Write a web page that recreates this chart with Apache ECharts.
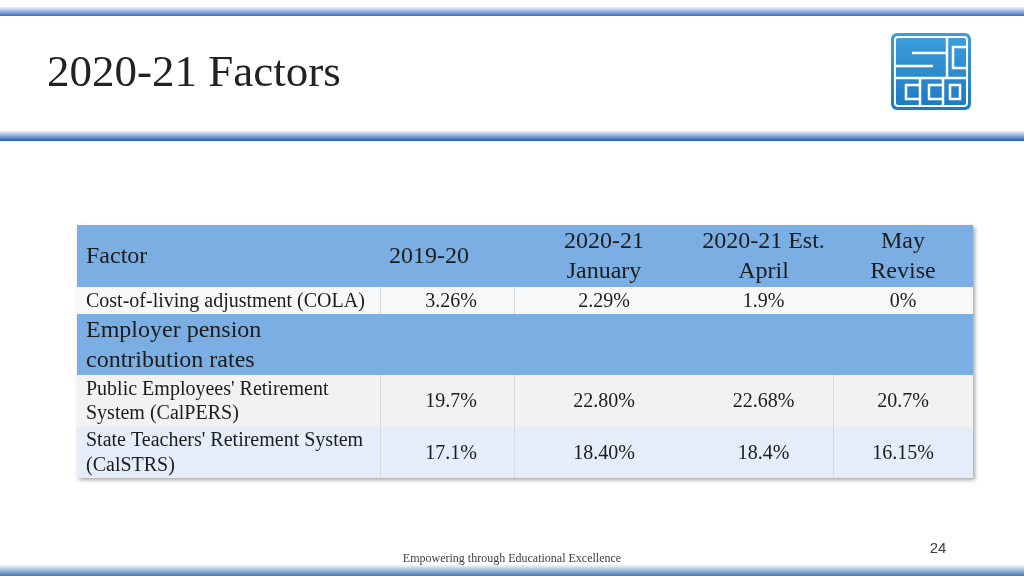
<!DOCTYPE html>
<html>
<head>
<meta charset="utf-8">
<title>2020-21 Factors</title>
<script src="https://cdn.jsdelivr.net/npm/echarts@6/dist/echarts.min.js"></script>
<style>
  html, body { margin: 0; padding: 0; background: #fff; }
  #chart { width: 1024px; height: 576px; }
</style>
</head>
<body>
<div id="chart"></div>
<script>
// table content
const columns = ['Factor', '2019-20', '2020-21\nJanuary', '2020-21 Est.\nApril', 'May\nRevise']
const factors = [
  'Cost-of-living adjustment (COLA)',
  'Employer pension\ncontribution rates',
  "Public Employees' Retirement\nSystem (CalPERS)",
  "State Teachers' Retirement System\n(CalSTRS)"
]
const fy1920 = ['3.26%', '', '19.7%', '17.1%']
const janValues = ['2.29%', '', '22.80%', '18.40%']
const aprilValues = ['1.9%', '', '22.68%', '18.4%']
const mayValues = ['0%', '', '20.7%', '16.15%']

const tableRows = [columns].concat(factors.map((f, i) => [f, fy1920[i], janValues[i], aprilValues[i], mayValues[i]]))

// layout
const colEdges = [77, 380, 514, 694, 833, 973]
const rowEdges = [225, 287, 314, 375, 427, 478]
const SERIF = '"Liberation Serif", "DejaVu Serif", serif'
const rowStyle = [
  { fill: '#7bafe3', size: 24, lh: 30, lines: [] },
  { fill: '#f8f8f8', size: 20, lh: 24, lines: [1, 2] },
  { fill: '#7bafe3', size: 24, lh: 30, lines: [] },
  { fill: '#f2f2f2', size: 20, lh: 24, lines: [1, 2, 4] },
  { fill: '#e4edf9', size: 20, lh: 25, lines: [1, 2, 4] }
]

const cells = []
tableRows.forEach((r, ri) => r.forEach((_, ci) => cells.push([ri, ci])))

function renderCell(params, api) {
  const row = api.value(0)
  const col = api.value(1)
  const st = rowStyle[row]
  const x0 = colEdges[col], x1 = colEdges[col + 1]
  const y0 = rowEdges[row], y1 = rowEdges[row + 1]
  const children = [{
    type: 'rect',
    shape: { x: x0, y: y0, width: x1 - x0, height: y1 - y0 },
    style: { fill: st.fill }
  }]
  if (st.lines.indexOf(col) >= 0) {
    children.push({
      type: 'line',
      shape: { x1: x0 + 0.5, y1: y0, x2: x0 + 0.5, y2: y1 },
      style: { stroke: '#d3dae3', lineWidth: 1 }
    })
  }
  const txt = tableRows[row][col]
  if (txt) {
    const leftAlign = col === 0 || (row === 0 && col === 1)
    children.push({
      type: 'text',
      style: {
        text: txt,
        x: leftAlign ? x0 + 9 : (x0 + x1) / 2 + (col === 1 ? 4 : 0),
        y: (y0 + y1) / 2 + 1,
        align: leftAlign ? 'left' : 'center',
        verticalAlign: 'middle',
        font: st.size + 'px ' + SERIF,
        lineHeight: st.lh,
        fill: '#1c1c1c'
      }
    })
  }
  return { type: 'group', children: children }
}

function band(y, h, top, bottom) {
  return {
    type: 'rect',
    shape: { x: 0, y: y, width: 1024, height: h },
    style: {
      fill: new echarts.graphic.LinearGradient(0, 0, 0, 1, [
        { offset: 0, color: top },
        { offset: 1, color: bottom }
      ])
    },
    silent: true
  }
}

const white = { stroke: '#fff', lineWidth: 2.5, fill: null }
const logo = {
  type: 'group',
  children: [
    {
      type: 'rect',
      shape: { x: 891, y: 33, width: 80, height: 77, r: 6 },
      style: {
        fill: new echarts.graphic.LinearGradient(0, 0, 0, 1, [
          { offset: 0, color: '#3c9fdc' },
          { offset: 1, color: '#1f78c2' }
        ])
      }
    },
    { type: 'rect', shape: { x: 895, y: 37, width: 72, height: 69, r: 3 }, style: { stroke: '#fff', lineWidth: 2, fill: null } },
    { type: 'line', shape: { x1: 896, y1: 78, x2: 966, y2: 78 }, style: white },
    { type: 'line', shape: { x1: 947, y1: 38, x2: 947, y2: 78 }, style: white },
    { type: 'polyline', shape: { points: [[947, 53], [912, 53]] }, style: white },
    { type: 'polyline', shape: { points: [[896, 66], [933, 66]] }, style: white },
    { type: 'polyline', shape: { points: [[966, 47], [953, 47], [953, 68], [966, 68]] }, style: white },
    { type: 'line', shape: { x1: 920, y1: 78, x2: 920, y2: 105 }, style: white },
    { type: 'line', shape: { x1: 943, y1: 78, x2: 943, y2: 105 }, style: white },
    { type: 'polyline', shape: { points: [[919, 85], [906, 85], [906, 99], [919, 99]] }, style: white },
    { type: 'polyline', shape: { points: [[942, 85], [929, 85], [929, 99], [942, 99]] }, style: white },
    { type: 'rect', shape: { x: 950, y: 85, width: 10, height: 14 }, style: white }
  ]
}

const chart = echarts.init(document.getElementById('chart'), null, { renderer: 'canvas' })

chart.setOption({
  backgroundColor: '#fff',
  animation: false,
  title: {
    text: '2020-21 Factors',
    left: 47,
    top: 52,
    padding: 0,
    textStyle: { fontFamily: SERIF, fontSize: 45, fontWeight: 'normal', color: '#222' }
  },
  graphic: [
    band(7, 9, '#eef2fb', '#3b6dc0'),
    band(131, 10, '#eef2fb', '#1f5fb5'),
    band(565, 11, '#f4f7fb', '#4a78b8'),
    logo,
    {
      type: 'rect',
      shape: { x: 77, y: 225, width: 896, height: 253 },
      style: { fill: '#fff', shadowBlur: 4, shadowOffsetX: 2, shadowOffsetY: 2, shadowColor: 'rgba(0,0,0,0.35)' },
      z: -1
    },
    {
      type: 'text',
      style: { text: 'Empowering through Educational Excellence', x: 512, y: 559, align: 'center', verticalAlign: 'middle', font: '12px ' + SERIF, fill: '#404040' }
    },
    {
      type: 'text',
      style: { text: '24', x: 938, y: 549, align: 'center', verticalAlign: 'middle', font: '15px "Liberation Sans", sans-serif', fill: '#404040' }
    }
  ],
  series: [{
    type: 'custom',
    coordinateSystem: 'none',
    data: cells,
    renderItem: renderCell,
    z: 2
  }]
})

window.addEventListener('resize', () => chart.resize())
</script>
</body>
</html>
